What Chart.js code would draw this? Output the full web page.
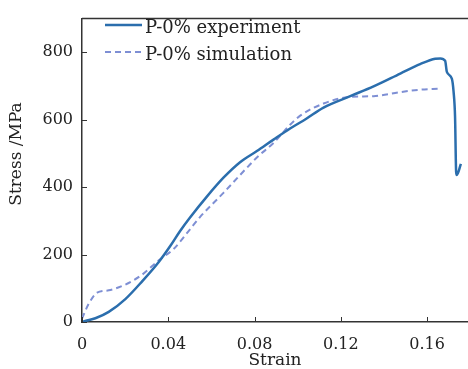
<!DOCTYPE html>
<html>
<head>
<meta charset="utf-8">
<script src="https://cdn.jsdelivr.net/npm/chart.js@4/dist/chart.umd.min.js"></script>
<style>
  html, body { margin: 0; padding: 0; background: #fff; }
</style>
</head>
<body>
<canvas id="chart" width="468" height="369"></canvas>
<script>
// data
const seriesNames = ['P-0% experiment', 'P-0% simulation'];
const expStrain = [0, 0.0015, 0.0062, 0.0124, 0.0201, 0.0278, 0.0356, 0.041, 0.0455, 0.0501, 0.0579, 0.0656, 0.0733, 0.0811, 0.0888, 0.0965, 0.104, 0.112, 0.1244, 0.1352, 0.1476, 0.1568, 0.1638, 0.1662, 0.1684, 0.1692, 0.1715, 0.1723, 0.173, 0.1735, 0.1738, 0.1757];
const expStress = [0, 3, 11, 30, 68, 120, 178, 226, 270, 310, 372, 428, 474, 507, 541, 574, 603, 636, 670, 699, 737, 765, 781, 782, 775, 742, 722, 684, 608, 445, 436, 469];
const simStrain = [0, 0.0031, 0.007, 0.0124, 0.0201, 0.0278, 0.0356, 0.0424, 0.0501, 0.0548, 0.0656, 0.0733, 0.0811, 0.0888, 0.0965, 0.1012, 0.112, 0.1244, 0.1352, 0.1476, 0.1568, 0.1653];
const simStress = [10, 54, 87, 94, 111, 140, 183, 216, 275, 312, 383, 436, 488, 531, 585, 612, 648, 668, 670, 682, 689, 692];
const xTicks = [0, 0.04, 0.08, 0.12, 0.16];
const yTicks = [0, 200, 400, 600, 800];
const xTitle = 'Strain';
const yTitle = 'Stress /MPa';

const serif = 'DejaVu Serif';
const axisColor = '#333';
const textColor = '#222';

function toPoints(xs, ys) {
  return xs.map((x, i) => ({ x: x, y: ys[i] }));
}

// inward ticks, top frame line, y title and the legend inside the plot
const decor = {
  id: 'decor',
  afterDraw(chart) {
    const ctx = chart.ctx;
    const area = chart.chartArea;
    const xs = chart.scales.x, ys = chart.scales.y;
    ctx.save();
    ctx.strokeStyle = axisColor;
    ctx.lineWidth = 1;
    xTicks.forEach(v => {
      const px = Math.round(xs.getPixelForValue(v)) + 0.5;
      ctx.beginPath();
      ctx.moveTo(px, area.bottom);
      ctx.lineTo(px, area.bottom - 5);
      ctx.stroke();
    });
    yTicks.forEach(v => {
      const py = Math.round(ys.getPixelForValue(v)) + 0.5;
      ctx.beginPath();
      ctx.moveTo(area.left, py);
      ctx.lineTo(area.left + 5, py);
      ctx.stroke();
    });
    ctx.lineWidth = 1.5;
    ctx.beginPath();
    ctx.moveTo(area.left, area.top);
    ctx.lineTo(area.right, area.top);
    ctx.stroke();

    // y axis title, a little above the middle like the reference
    ctx.fillStyle = textColor;
    ctx.font = '17px "' + serif + '"';
    ctx.textAlign = 'center';
    ctx.textBaseline = 'middle';
    ctx.translate(17, 154);
    ctx.rotate(-Math.PI / 2);
    ctx.fillText(yTitle, 0, 0);
    ctx.setTransform(1, 0, 0, 1, 0, 0);

    // legend
    ctx.font = '18px "' + serif + '"';
    ctx.textAlign = 'left';
    chart.data.datasets.forEach((ds, i) => {
      const y = 25 + i * 27;
      ctx.strokeStyle = ds.borderColor;
      ctx.lineWidth = ds.borderWidth;
      ctx.setLineDash(ds.borderDash || []);
      ctx.beginPath();
      ctx.moveTo(105, y);
      ctx.lineTo(142, y);
      ctx.stroke();
      ctx.setLineDash([]);
      ctx.fillText(ds.label, 145, y + 3);
    });
    ctx.restore();
  }
};

new Chart(document.getElementById('chart'), {
  type: 'scatter',
  data: {
    datasets: [
      {
        label: seriesNames[0],
        data: toPoints(expStrain, expStress),
        showLine: true,
        borderColor: '#2b6ead',
        borderWidth: 2.5,
        pointRadius: 0,
        cubicInterpolationMode: 'monotone'
      },
      {
        label: seriesNames[1],
        data: toPoints(simStrain, simStress),
        showLine: true,
        borderColor: '#7e8fd4',
        borderWidth: 2,
        borderDash: [6, 4],
        pointRadius: 0,
        cubicInterpolationMode: 'monotone'
      }
    ]
  },
  options: {
    responsive: false,
    devicePixelRatio: 1,
    animation: false,
    layout: { padding: { top: 8, right: 0, left: 0, bottom: 0 } },
    plugins: {
      legend: { display: false },
      tooltip: { enabled: false }
    },
    scales: {
      x: {
        type: 'linear',
        min: 0,
        max: 0.179,
        afterBuildTicks: s => { s.ticks = xTicks.map(v => ({ value: v })); },
        afterFit: s => { s.height = 47; },
        grid: { display: false, drawTicks: false },
        border: { color: axisColor, width: 1.5 },
        ticks: {
          color: textColor,
          font: { family: serif, size: 16 },
          padding: 13,
          maxRotation: 0,
          callback: v => String(v)
        },
        title: {
          display: true,
          text: xTitle,
          color: textColor,
          font: { family: serif, size: 17, lineHeight: 1 },
          padding: { top: 0, bottom: 0 }
        }
      },
      y: {
        type: 'linear',
        min: 0,
        max: 900,
        afterBuildTicks: s => { s.ticks = yTicks.map(v => ({ value: v })); },
        afterFit: s => { s.width = 82; },
        grid: { display: false, drawTicks: false },
        border: { color: axisColor, width: 1.5 },
        ticks: {
          color: textColor,
          font: { family: serif, size: 16 },
          padding: 9
        }
      }
    }
  },
  plugins: [decor]
});
</script>
</body>
</html>
